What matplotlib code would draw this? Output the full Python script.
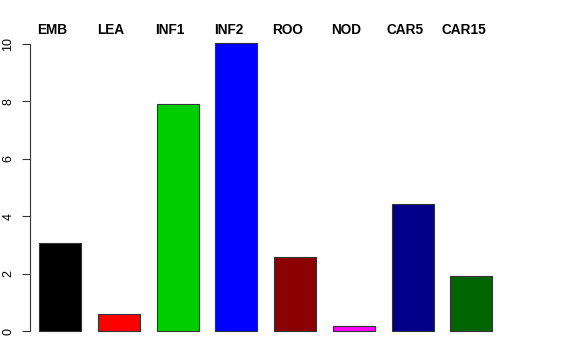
import matplotlib.pyplot as plt
import numpy as np

tissues = ["EMB", "LEA", "INF1", "INF2", "ROO", "NOD", "CAR5", "CAR15"]
values = [3.07, 0.59, 7.91, 10.03, 2.58, 0.18, 4.42, 1.92]
colors = ["#000000", "#ff0000", "#00cd00", "#0000ff", "#8b0000", "#ff00ff", "#00008b", "#006400"]
yticks = [0, 2, 4, 6, 8, 10]

plt.rcParams['font.family'] = ['Liberation Sans', 'DejaVu Sans']

fig = plt.figure(figsize=(5.76, 3.6), dpi=100)
ax = fig.add_axes([0, 0, 1, 1])

# R barplot layout: width 1, space 0.4
x = 0.4 + np.arange(len(values)) * 1.4 + 0.5
ax.bar(x, values, width=1.0, color=colors, edgecolor="#333333", linewidth=0.8)

for xi, lab in zip(x, tissues):
    ax.text(xi - 0.19, 10.5, lab, ha="center", va="center",
            fontsize=9.8, fontweight="bold")

ax.set_xlim(-0.53, 13.19)
ax.set_ylim(-1.0, 11.53)

for s in ["top", "right", "bottom"]:
    ax.spines[s].set_visible(False)
ax.spines["left"].set_position(("data", 0.19))
ax.spines["left"].set_bounds(0, 10)
ax.spines["left"].set_linewidth(0.8)
ax.spines["left"].set_color("#333333")
ax.set_xticks([])
ax.set_yticks(yticks)
ax.set_yticklabels([str(t) for t in yticks], rotation=90, va="center", fontsize=9)
ax.tick_params(axis="y", direction="out", length=5.5, width=0.8, color="#333333", pad=6)

fig.savefig("out.png", dpi=100)
